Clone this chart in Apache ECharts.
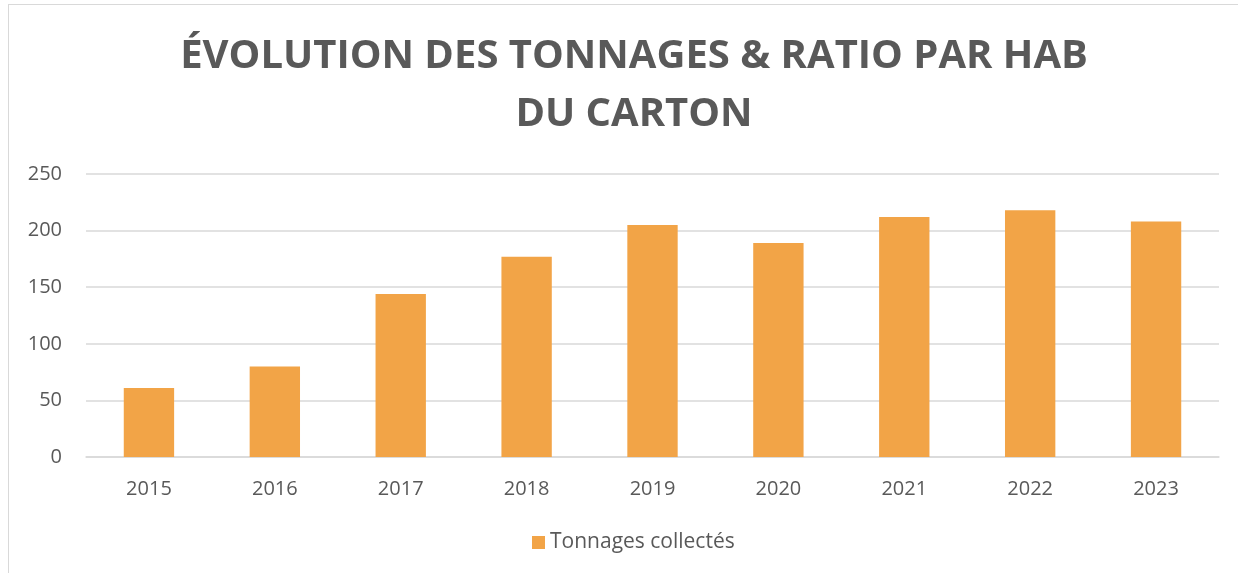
<!DOCTYPE html>
<html>
<head>
<meta charset="utf-8">
<script src="https://cdn.jsdelivr.net/npm/echarts@6/dist/echarts.min.js"></script>
<style>
  html, body { margin: 0; padding: 0; background: #fff; }
  #wrap { position: relative; width: 1238px; height: 573px; overflow: hidden; }
  #chart { position: absolute; left: 0; top: 0; width: 1238px; height: 573px; }
  #frame {
    position: absolute; left: 8px; top: 4px; right: -2px; bottom: -2px;
    border-top: 1.5px solid #d9d9d9; border-left: 1.5px solid #d9d9d9;
    pointer-events: none;
  }
</style>
</head>
<body>
<div id="wrap">
  <div id="chart"></div>
  <div id="frame"></div>
</div>
<script>
// données
const years = ['2015', '2016', '2017', '2018', '2019', '2020', '2021', '2022', '2023']
const tonnages = [61, 80, 144, 177, 205, 189, 212, 218, 208]
const seriesName = 'Tonnages collectés'
const titleText = 'ÉVOLUTION DES TONNAGES & RATIO PAR HAB\nDU CARTON'

const chart = echarts.init(document.getElementById('chart'))
chart.setOption({
  animation: false,
  title: {
    text: titleText,
    left: 629,
    top: 23,
    textAlign: 'center',
    textStyle: {
      color: '#595959',
      fontFamily: 'Open Sans',
      fontWeight: 'bold',
      fontSize: 40,
      lineHeight: 58
    }
  },
  legend: {
    left: 527,
    bottom: 15,
    itemWidth: 13,
    itemHeight: 13,
    icon: 'rect',
    textStyle: { color: '#595959', fontSize: 21, fontFamily: 'Open Sans' },
    data: [seriesName]
  },
  grid: { left: 86, right: 19, top: 174, bottom: 116 },
  xAxis: {
    type: 'category',
    data: years,
    axisLine: { lineStyle: { color: '#d9d9d9', width: 1.5 } },
    axisTick: { show: false },
    axisLabel: { color: '#595959', fontSize: 20, fontFamily: 'Open Sans', margin: 22 }
  },
  yAxis: {
    type: 'value',
    min: 0,
    max: 250,
    interval: 50,
    axisLine: { show: false },
    axisTick: { show: false },
    splitLine: { lineStyle: { color: '#d9d9d9', width: 1.5 } },
    axisLabel: { color: '#595959', fontSize: 20, fontFamily: 'Open Sans', margin: 24 }
  },
  series: [{
    name: seriesName,
    type: 'bar',
    data: tonnages,
    barWidth: '40%',
    itemStyle: { color: '#f2a447' }
  }]
})
</script>
</body>
</html>
